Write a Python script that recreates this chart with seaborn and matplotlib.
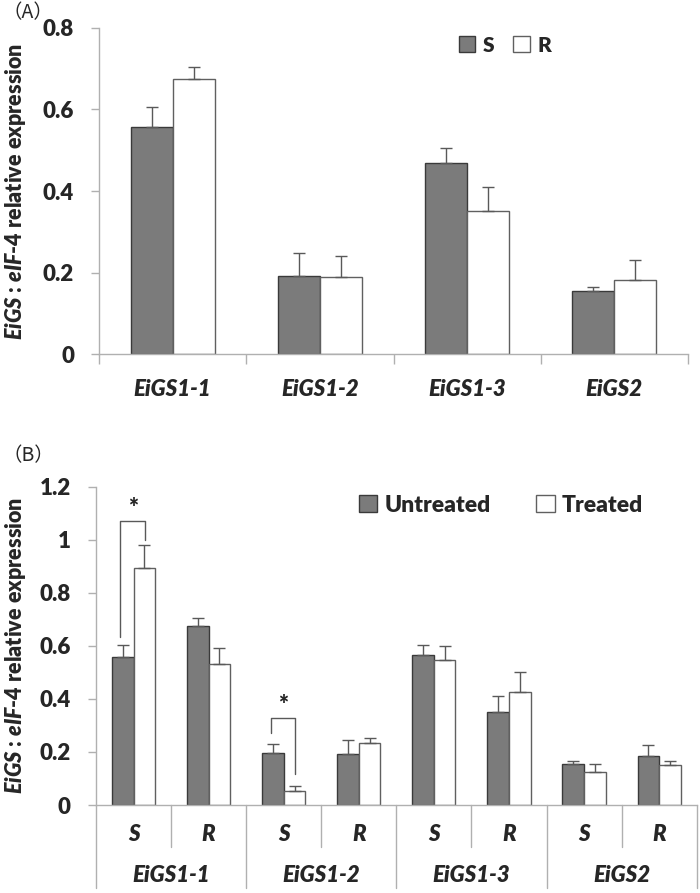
import numpy as np
import pandas as pd
import matplotlib
matplotlib.use("Agg")
import matplotlib.pyplot as plt
import seaborn as sns

# ---- data ----
genes = ["EiGS1-1", "EiGS1-2", "EiGS1-3", "EiGS2"]

# panel A : S vs R lines
a_groups = ["S", "R"]
a_mean_S = [0.557, 0.193, 0.468, 0.154]
a_err_S = [0.048, 0.054, 0.037, 0.011]
a_mean_R = [0.675, 0.189, 0.350, 0.182]
a_err_R = [0.028, 0.053, 0.059, 0.050]

# panel B : untreated vs treated, for S and R lines of each gene
b_groups = ["Untreated", "Treated"]
b_lines = ["S", "R"]
b_mean_untr = [0.559, 0.676, 0.195, 0.191, 0.567, 0.349, 0.156, 0.185]
b_err_untr = [0.044, 0.030, 0.034, 0.053, 0.037, 0.063, 0.009, 0.040]
b_mean_tr = [0.894, 0.530, 0.053, 0.232, 0.547, 0.425, 0.123, 0.150]
b_err_tr = [0.085, 0.063, 0.020, 0.019, 0.054, 0.076, 0.030, 0.015]
# significant pairs (index into the 8 sub-categories) and bracket heights
sig_idx = [0, 2]
sig_top = [1.07, 0.327]
sig_left = [0.634, 0.270]
sig_right = [1.0, 0.116]

GRAY = "#7b7b7b"
AXC = "#b0b0b0"
ERRC = "#595959"

sns.set_style("white")
plt.rcParams["font.family"] = ["Lato", "DejaVu Sans"]
plt.rcParams["mathtext.fontset"] = "custom"
plt.rcParams["mathtext.it"] = "Lato:italic:heavy"
plt.rcParams["mathtext.rm"] = "Lato:heavy"

CJK = ["Noto Sans CJK SC", "Noto Sans CJK JP", "DejaVu Sans"]

fig = plt.figure(figsize=(7, 8.93), dpi=100)
axA = fig.add_axes([99 / 700, 1 - 354.3 / 893, 589 / 700, 326.6 / 893])
axB = fig.add_axes([96 / 700, 1 - 805 / 893, 600.7 / 700, 318.3 / 893])

ylab = r"$\mathit{EiGS}$ : $\mathit{eIF}$-$\mathit{4}$ relative expression"
BOLD = "heavy"


def style_bars(ax, errs):
    edges = ["#3a3a3a", "#606060"]
    for cont, ec, err in zip(ax.containers, edges, errs):
        xs, ys = [], []
        for bar in cont:
            bar.set_edgecolor(ec)
            bar.set_linewidth(1.0)
            xs.append(bar.get_x() + bar.get_width() / 2)
            ys.append(bar.get_height())
        ax.errorbar(xs, ys, yerr=[np.zeros(len(err)), err], fmt="none",
                    ecolor=ERRC, elinewidth=1.0, capsize=4.5, capthick=1.0, zorder=1)


def style_axis(ax, ymax):
    ticks = np.arange(0, ymax + 0.001, 0.2)
    ax.set_ylim(0, ymax)
    ax.set_yticks(ticks)
    ax.set_yticklabels([f"{v:g}" for v in ticks], fontsize=16, fontweight=BOLD)
    ax.tick_params(axis="y", length=6, width=1, color=AXC, pad=12, direction="out", left=True)
    for s in ["top", "right"]:
        ax.spines[s].set_visible(False)
    for s in ["left", "bottom"]:
        ax.spines[s].set_color(AXC)
        ax.spines[s].set_linewidth(1.0)
    ax.set_ylabel(ylab, fontsize=15.5, fontweight=BOLD)
    ax.set_xlabel("")


# ---- panel A ----
dfA = pd.DataFrame({
    "gene": genes * 2,
    "group": ["S"] * 4 + ["R"] * 4,
    "value": a_mean_S + a_mean_R,
})
sns.barplot(data=dfA, x="gene", y="value", hue="group", hue_order=a_groups,
            palette=[GRAY, "white"], width=0.57, gap=0, errorbar=None,
            legend=False, ax=axA)
style_bars(axA, [a_err_S, a_err_R])
style_axis(axA, 0.8)
axA.set_xlim(-0.5, 3.5)
axA.set_xticks(range(4))
axA.set_xticklabels(genes, fontsize=16, fontweight=BOLD, fontstyle="italic")
axA.set_xticks(np.arange(-0.5, 4, 1), minor=True)
axA.tick_params(axis="x", which="major", length=0, pad=18)
axA.tick_params(axis="x", which="minor", length=7, width=1, color=AXC, bottom=True)
axA.yaxis.set_label_coords(-0.12, 0.5)
axA.legend(axA.containers, a_groups, loc="center", bbox_to_anchor=(0.689, 0.947),
           ncol=2, frameon=False, handlelength=0.8, handleheight=0.8,
           handletextpad=0.35, columnspacing=0.9, prop={"weight": BOLD, "size": 15})

# ---- panel B ----
sub = [f"{g} {l}" for g in genes for l in b_lines]
dfB = pd.DataFrame({
    "sub": sub * 2,
    "group": ["Untreated"] * 8 + ["Treated"] * 8,
    "value": b_mean_untr + b_mean_tr,
})
sns.barplot(data=dfB, x="sub", y="value", hue="group", hue_order=b_groups,
            palette=[GRAY, "white"], width=0.575, gap=0, errorbar=None,
            legend=False, ax=axB)
style_bars(axB, [b_err_untr, b_err_tr])
style_axis(axB, 1.2)
axB.set_xlim(-0.5, 7.5)
axB.set_xticks(range(8))
axB.set_xticklabels([])
axB.tick_params(axis="x", length=0)
axB.yaxis.set_label_coords(-0.113, 0.5)

trans = axB.get_xaxis_transform()
for i in range(8):
    axB.text(i, -0.094, b_lines[i % 2], transform=trans, ha="center", va="center",
             fontsize=16, fontweight=BOLD, fontstyle="italic")
for j, g in enumerate(genes):
    axB.text(2 * j + 0.5, -0.22, g, transform=trans, ha="center", va="center",
             fontsize=16, fontweight=BOLD, fontstyle="italic")
for k in range(9):
    xb = k - 0.5
    depth = -0.261 if k % 2 == 0 else -0.132
    axB.plot([xb, xb], [0, depth], transform=trans, color=AXC, lw=1.0, clip_on=False)

# significance brackets
u_bars = list(axB.containers[0])
t_bars = list(axB.containers[1])
for i, yt, yl, yr in zip(sig_idx, sig_top, sig_left, sig_right):
    xu = u_bars[i].get_x() + u_bars[i].get_width() / 2 - 0.03
    xt = t_bars[i].get_x() + t_bars[i].get_width() / 2 + 0.01
    axB.plot([xu, xu, xt, xt], [yl, yt, yt, yr], color=ERRC, lw=1.0)
    axB.text((xu + xt) / 2, yt + 0.008, "*", ha="center", va="bottom",
             fontsize=17, fontweight=BOLD)

axB.legend(axB.containers, b_groups, loc="center", bbox_to_anchor=(0.674, 0.9425),
           ncol=2, frameon=False, handlelength=0.8, handleheight=0.8,
           handletextpad=0.3, columnspacing=2.0, prop={"weight": BOLD, "size": 16.5})

# panel letters
fig.text(2 / 700, 1 - 13 / 893, "（A）", family=CJK, fontsize=14, va="center", ha="left")
fig.text(2 / 700, 1 - 456 / 893, "（B）", family=CJK, fontsize=14, va="center", ha="left")

fig.savefig("out.png", dpi=100)
